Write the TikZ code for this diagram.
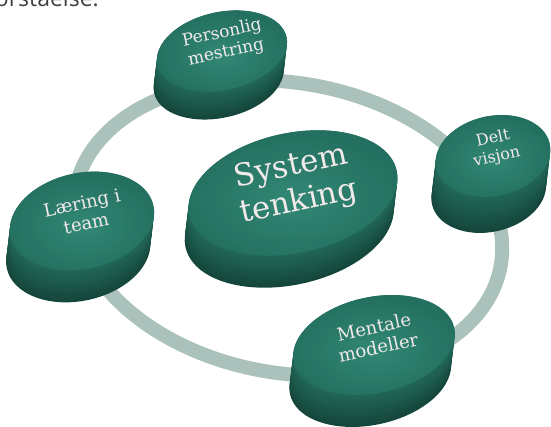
\documentclass[tikz,border=0pt]{standalone}
\usepackage{fontspec}
\newfontfamily\labelfont{DejaVu Serif}
\newfontfamily\headfont{Open Sans}
\definecolor{ringgray}{RGB}{170,194,187}
\definecolor{toplight}{RGB}{50,136,117}
\definecolor{topdark}{RGB}{36,112,96}
\definecolor{sidelight}{RGB}{33,104,89}
\definecolor{sidedark}{RGB}{21,70,59}
\definecolor{lblfill}{RGB}{242,234,234}
\definecolor{headgray}{RGB}{64,64,64}
\tikzset{
  ring/.style={draw=ringgray, line width=14pt},
  lbl/.style={align=center, inner sep=0pt, text=lblfill, rotate=12},
}
% #1 name, #2 #3 centre of the top face, #4 #5 radii, #6 depth, #7 font size, #8 text
\newcommand{\puck}[8]{%
  \foreach \k in {0,...,14}{
    \pgfmathsetmacro\dd{#6*(14-\k)/14}
    \pgfmathtruncatemacro\cc{100*\k/14}
    \fill[shift={(#2-0.12*\dd,#3+\dd)}, rotate=12, sidelight!\cc!sidedark] (0,0) ellipse [x radius=#4, y radius=#5];
  }
  \shade[shift={(#2,#3)}, rotate=12, inner color=toplight, outer color=topdark] (0,0) ellipse [x radius=#4, y radius=#5];
  \pgfmathsetmacro\bs{1.16*#7}
  \node[lbl, font=\labelfont\fontsize{#7}{\bs}\selectfont] (#1) at (#2+2,#3-8) {#8};
}
\begin{document}
\begin{tikzpicture}[x=1pt, y=-1pt]
\useasboundingbox (0,0) rectangle (551,427);
\node[anchor=base east, inner sep=0pt, font=\headfont\fontsize{23}{23}\selectfont, text=headgray] (hdr) at (99,7) {forståelse:};
\draw[ring, shift={(288,228)}, rotate=-10] (0,0) ellipse [x radius=216, y radius=145];
\puck{pm}{222}{51}{66}{39}{28}{17}{Personlig\\mestring}
\puck{dv}{493}{156}{58}{40}{36}{16}{Delt\\visjon}
\puck{lt}{82}{221}{73}{48}{32}{18}{Læring i\\team}
\puck{mm}{374}{345}{82}{48}{32}{18}{Mentale\\modeller}
\puck{st}{293}{193}{106}{60}{32}{31}{System\\tenking}
\end{tikzpicture}
\end{document}
